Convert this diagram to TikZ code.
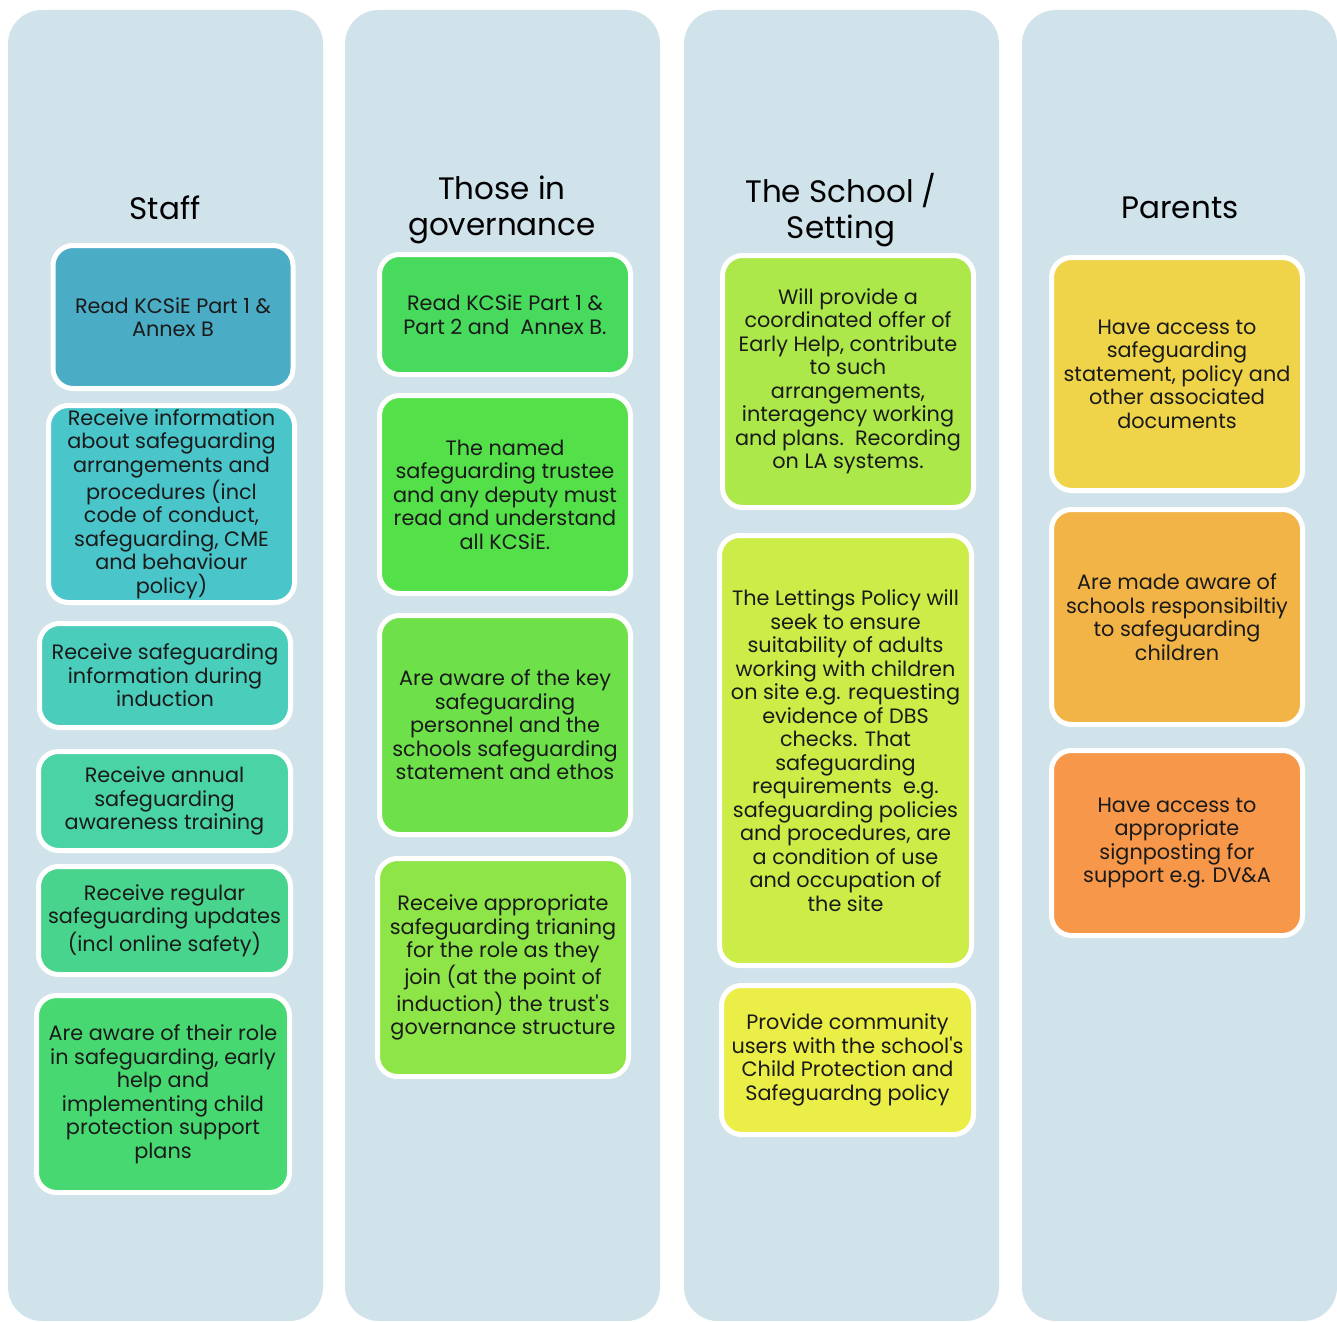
\documentclass[tikz,border=0pt]{standalone}
\usepackage{fontspec}
\setmainfont{Poppins}[Ligatures=TeXOff]
\definecolor{panelblue}{HTML}{D0E2EA}
\definecolor{textgrey}{HTML}{1A1A1A}
\definecolor{staffA}{HTML}{4BACC6}
\definecolor{staffB}{HTML}{4AC5CA}
\definecolor{staffC}{HTML}{4ACDBA}
\definecolor{staffD}{HTML}{4AD3A4}
\definecolor{staffE}{HTML}{48D48C}
\definecolor{staffF}{HTML}{48D872}
\definecolor{govA}{HTML}{48DA5C}
\definecolor{govB}{HTML}{54E048}
\definecolor{govC}{HTML}{6EE14A}
\definecolor{govD}{HTML}{8EE547}
\definecolor{schoolA}{HTML}{ACE84A}
\definecolor{schoolB}{HTML}{CCEC48}
\definecolor{schoolC}{HTML}{ECEE48}
\definecolor{parentA}{HTML}{EFD449}
\definecolor{parentB}{HTML}{F2B447}
\definecolor{parentC}{HTML}{F69749}
\begin{document}
\begin{tikzpicture}[
    x=0.5pt, y=-0.5pt,
    panel/.style={fill=panelblue, rounded corners=17pt},
    heading/.style={align=center, text=black, font=\fontsize{15.5}{18}\selectfont},
    box/.style={draw=white, line width=2.5pt, rounded corners=10pt, align=center,
      inner sep=0pt, text=textgrey, font=\fontsize{10.4}{11.75}\selectfont}
    ]
  \useasboundingbox[fill=white] (0,0) rectangle (1337,1321);
  \fill[panel] (8,10) rectangle (323,1321);
  \fill[panel] (345,10) rectangle (660,1321);
  \fill[panel] (684,10) rectangle (999,1321);
  \fill[panel] (1022,10) rectangle (1337,1321);

  \node[heading] (staff) at (165,208) {Staff};
  \node[heading] (gov) at (502,210) {Those in\\governance};
  \node[heading] (school) at (841,210) {The School /\\Setting};
  \node[heading] (parents) at (1180,208) {Parents};

  \node[box, fill=staffA, minimum width=120pt, minimum height=71.5pt] (staffA) at (173,317)
    {Read KCSiE Part 1 \&\\Annex B};
  \node[box, fill=staffB, minimum width=123pt, minimum height=98.5pt] (staffB) at (171.5,504)
    {Receive information\\about safeguarding\\arrangements and\\procedures (incl\\code of conduct,\\safeguarding, CME\\and behaviour\\policy)};
  \node[box, fill=staffC, minimum width=125.5pt, minimum height=52pt] (staffC) at (165,675.5)
    {Receive safeguarding\\information during\\induction};
  \node[box, fill=staffD, minimum width=126pt, minimum height=49.5pt] (staffD) at (164.5,801)
    {Receive annual\\safeguarding\\awareness training};
  \node[box, fill=staffE, minimum width=126pt, minimum height=54pt] (staffE) at (164.5,920.5)
    {Receive regular\\safeguarding updates\\(incl online safety)};
  \node[box, fill=staffF, minimum width=126.5pt, minimum height=98.5pt] (staffF) at (163,1094)
    {Are aware of their role\\in safeguarding, early\\help and\\implementing child\\protection support\\plans};

  \node[box, fill=govA, minimum width=125.5pt, minimum height=60pt] (govA) at (505,314.5)
    {Read KCSiE Part 1 \&\\Part 2 and~~Annex B.};
  \node[box, fill=govB, minimum width=125.5pt, minimum height=99pt] (govB) at (505,494.5)
    {The named\\safeguarding trustee\\and any deputy must\\read and understand\\all KCSiE.};
  \node[box, fill=govC, minimum width=125.5pt, minimum height=109.5pt] (govC) at (505,725)
    {Are aware of the key\\safeguarding\\personnel and the\\schools safeguarding\\statement and ethos};
  \node[box, fill=govD, minimum width=125.5pt, minimum height=109pt] (govD) at (503,967.5)
    {Receive appropriate\\safeguarding trianing\\for the role as they\\join (at the point of\\induction) the trust's\\governance structure};

  \node[box, fill=schoolA, minimum width=125.5pt, minimum height=126pt] (schoolA) at (848,381.5)
    {Will provide a\\coordinated offer of\\Early Help, contribute\\to such\\arrangements,\\interagency working\\and plans.~~Recording\\on LA systems.};
  \node[box, fill=schoolB, minimum width=126pt, minimum height=215pt] (schoolB) at (845.5,750.5)
    {The Lettings Policy will\\seek to ensure\\suitability of adults\\working with children\\on site e.g. requesting\\evidence of DBS\\checks. That\\safeguarding\\requirements~~e.g.\\safeguarding policies\\and procedures, are\\a condition of use\\and occupation of\\the site};
  \node[box, fill=schoolC, minimum width=126pt, minimum height=74.5pt] (schoolC) at (847.5,1060)
    {Provide community\\users with the school's\\Child Protection and\\Safeguardng policy};

  \node[box, fill=parentA, minimum width=125.5pt, minimum height=116.5pt] (parentA) at (1177,374)
    {Have access to\\safeguarding\\statement, policy and\\other associated\\documents};
  \node[box, fill=parentB, minimum width=125.5pt, minimum height=107.5pt] (parentB) at (1177,617)
    {Are made aware of\\schools responsibiltiy\\to safeguarding\\children};
  \node[box, fill=parentC, minimum width=125.5pt, minimum height=92.5pt] (parentC) at (1177,843)
    {Have access to\\appropriate\\signposting for\\support e.g. DV\&A};
\end{tikzpicture}
\end{document}
